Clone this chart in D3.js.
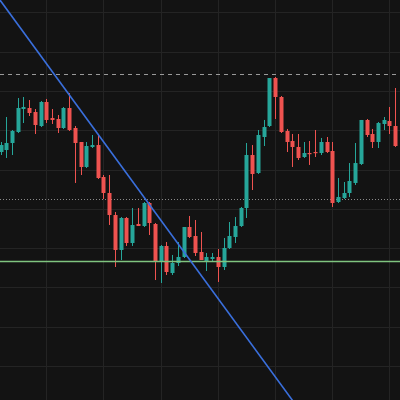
<!DOCTYPE html>
<html>
<head>
<meta charset="utf-8">
<script src="https://cdn.jsdelivr.net/npm/d3@7"></script>
<style>
  html, body { margin: 0; padding: 0; background: #131313; }
  svg { display: block; }
</style>
</head>
<body>
<div id="chart"></div>
<script>
// candle values, one entry per bar (left to right)
var opens  = [64.45,64.96,66.74,69.54,75.39,75.65,74.63,71.07,77.18,73.10,72.85,70.56,75.65,70.56,67.00,60.64,65.73,66.23,58.09,54.02,
              48.42,39.52,47.66,41.30,46.13,45.62,51.48,46.13,36.46,40.54,33.66,36.21,37.74,45.37,43.08,39.01,36.72,37.23,37.74,35.19,
              40.03,42.83,45.62,50.20,63.69,59.11,68.27,71.07,83.28,78.45,69.80,67.25,65.73,63.18,64.20,64.45,64.20,67.00,64.71,51.73,
              52.75,54.02,56.57,61.40,72.60,69.03,67.00,71.58,72.34,71.07];
var highs  = [67.00,73.36,70.05,78.19,78.45,77.68,75.39,77.43,77.94,75.39,73.87,75.90,79.47,71.07,67.00,67.00,68.78,68.78,58.60,58.60,
              49.19,47.91,47.91,50.20,50.20,51.73,51.73,46.39,40.79,41.55,38.25,41.55,45.37,48.17,47.15,44.10,38.75,38.75,39.77,42.57,
              46.64,47.91,50.46,66.74,66.23,70.05,72.60,83.28,83.54,78.70,70.31,69.03,69.03,67.00,67.25,70.05,68.02,68.27,67.00,57.84,
              56.82,61.65,66.74,72.60,72.85,70.31,72.09,73.36,75.90,80.74];
var lows   = [63.69,62.93,63.69,69.29,71.83,73.61,69.03,70.81,71.83,71.58,69.29,70.31,69.80,56.57,58.60,60.38,65.47,57.58,52.49,45.88,
              35.19,36.97,40.54,40.54,45.62,45.37,43.33,31.88,31.12,33.16,33.16,35.45,37.48,42.57,37.99,36.97,34.17,36.46,31.38,34.43,
              39.77,41.30,45.37,47.66,54.78,58.86,65.98,70.81,72.85,69.29,64.45,60.64,62.42,62.93,61.15,63.18,63.69,64.20,50.46,51.48,
              52.49,53.00,56.06,61.15,68.27,65.47,65.47,70.05,69.03,65.73];
var closes = [66.23,66.74,69.80,75.65,75.90,74.38,71.32,77.18,72.60,72.60,70.56,75.65,70.05,66.74,60.64,65.98,66.23,57.84,54.02,48.42,
              39.52,47.66,41.30,45.88,45.62,51.48,46.39,36.46,40.54,33.92,36.21,37.74,45.37,42.83,38.75,36.97,37.74,37.74,35.19,40.03,
              43.08,45.62,50.20,63.69,58.86,68.78,70.81,83.28,78.45,69.54,67.00,65.73,62.93,64.20,63.94,64.20,67.00,64.45,51.48,53.00,
              54.02,57.07,61.65,72.60,68.78,67.00,71.83,72.60,71.07,65.98];

// drawn levels
var resistance = 84.30;   // dashed grey
var midLevel = 52.37;     // dotted grey
var support = 36.59;      // green
var trendIdx = [0, 50];
var trendPrice = [102.95, 3.33];

var gridPrices = [10, 20, 30, 40, 50, 60, 70, 80, 90, 100];
var gridIdx = [8, 18, 28, 38, 48, 58, 68];

var width = 400, height = 400;
var upColor = '#26a69a', downColor = '#ef5350';

var svg = d3.select('#chart').append('svg')
    .attr('width', width)
    .attr('height', height);

svg.append('rect')
    .attr('width', width)
    .attr('height', height)
    .attr('fill', '#131313');

var x = d3.scaleLinear().domain([0, 69]).range([0.5, 395.2]);
var y = d3.scaleLinear().domain([1.35, 103.13]).range([height, 0]);

var candles = opens.map(function(o, i) {
    return {i: i, o: o, h: highs[i], l: lows[i], c: closes[i]};
});

// grid
var grid = svg.append('g').attr('stroke', '#242424').attr('stroke-width', 1);
grid.selectAll('.hg').data(gridPrices).enter().append('line')
    .attr('x1', 0).attr('x2', width)
    .attr('y1', function(d){ return Math.round(y(d)) + 0.5; })
    .attr('y2', function(d){ return Math.round(y(d)) + 0.5; });
grid.selectAll('.vg').data(gridIdx).enter().append('line')
    .attr('y1', 0).attr('y2', height)
    .attr('x1', function(d){ return Math.round(x(d)) + 0.5; })
    .attr('x2', function(d){ return Math.round(x(d)) + 0.5; });

// level lines
svg.append('line')
    .attr('x1', 0).attr('x2', width)
    .attr('y1', Math.round(y(resistance)) + 0.5).attr('y2', Math.round(y(resistance)) + 0.5)
    .attr('stroke', '#9a9a9a').attr('stroke-width', 1)
    .attr('stroke-dasharray', '4,4');

svg.append('line')
    .attr('x1', 0).attr('x2', width)
    .attr('y1', Math.round(y(midLevel)) + 0.5).attr('y2', Math.round(y(midLevel)) + 0.5)
    .attr('stroke', '#8a8a8a').attr('stroke-width', 1)
    .attr('stroke-dasharray', '1,2');

// candles
var bodyW = 4;
var bar = svg.selectAll('.candle')
    .data(candles)
    .enter().append('g')
    .attr('class', 'candle')
    .attr('fill', function(d){ return d.c >= d.o ? upColor : downColor; })
    .attr('stroke', function(d){ return d.c >= d.o ? upColor : downColor; });

bar.append('line')
    .attr('x1', function(d){ return Math.round(x(d.i)) + 0.5; })
    .attr('x2', function(d){ return Math.round(x(d.i)) + 0.5; })
    .attr('y1', function(d){ return y(d.h); })
    .attr('y2', function(d){ return y(d.l); })
    .attr('stroke-width', 1);

bar.append('rect')
    .attr('x', function(d){ return Math.round(x(d.i)) - bodyW / 2 + 0.5; })
    .attr('y', function(d){ return y(Math.max(d.o, d.c)); })
    .attr('width', bodyW)
    .attr('height', function(d){ return Math.max(1.2, Math.abs(y(d.o) - y(d.c))); })
    .attr('stroke', 'none');

// support line
svg.append('line')
    .attr('x1', 0).attr('x2', width)
    .attr('y1', y(support)).attr('y2', y(support))
    .attr('stroke', '#7fc47f').attr('stroke-width', 1.6);

// trend line, extended both ways
var slope = (trendPrice[1] - trendPrice[0]) / (trendIdx[1] - trendIdx[0]);
var i0 = -2, i1 = 55;
svg.append('line')
    .attr('x1', x(i0)).attr('y1', y(trendPrice[0] + slope * (i0 - trendIdx[0])))
    .attr('x2', x(i1)).attr('y2', y(trendPrice[0] + slope * (i1 - trendIdx[0])))
    .attr('stroke', '#3a6fdc').attr('stroke-width', 1.6);
</script>
</body>
</html>
